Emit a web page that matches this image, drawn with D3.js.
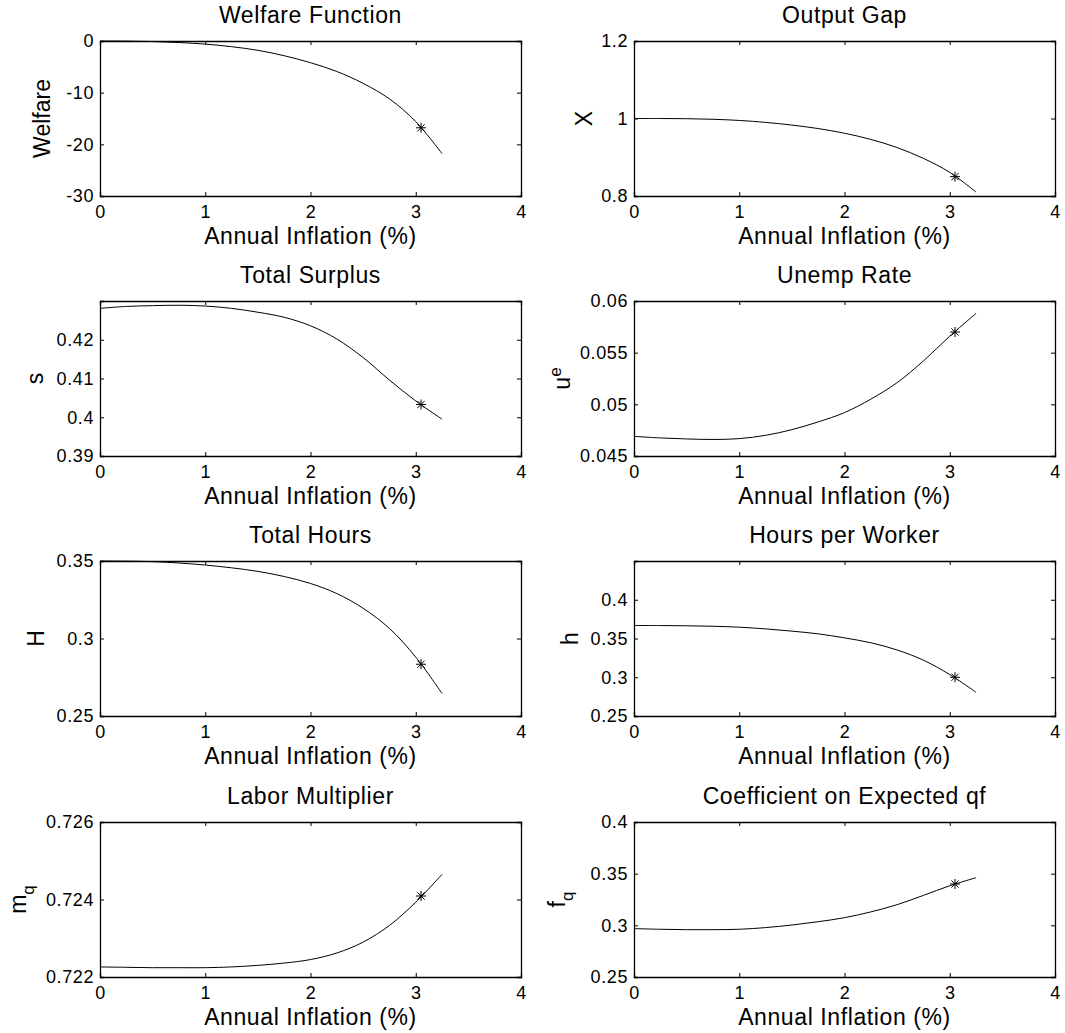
<!DOCTYPE html>
<html>
<head>
<meta charset="utf-8">
<script src="https://cdn.jsdelivr.net/npm/d3@7"></script>
<style>
  body { margin: 0; background: #fff; }
  text { font-family: "Liberation Sans", Arial, Helvetica, sans-serif; fill: #000; }
</style>
</head>
<body>
<script>
// inflation grid (x values shared by every panel)
var inflation = [0, 0.25, 0.5, 0.75, 1, 1.25, 1.5, 1.75, 2, 2.25, 2.5, 2.75, 3, 3.25]

// series
var welfare   = [0, -0.02, -0.1, -0.3, -0.6, -1.1, -1.8, -2.85, -4.2, -5.9, -8.2, -11.2, -15.6, -21.8]
var outputGap = [1.0, 1.0, 0.9995, 0.998, 0.995, 0.99, 0.983, 0.974, 0.962, 0.946, 0.925, 0.897, 0.861, 0.81]
var surplus   = [0.4281, 0.4286, 0.4288, 0.4289, 0.4287, 0.4281, 0.4271, 0.4258, 0.4236, 0.4202, 0.4154, 0.4096, 0.4042, 0.3995]
var unemp     = [0.0469, 0.04675, 0.04665, 0.0466, 0.04668, 0.0470, 0.04755, 0.0483, 0.0492, 0.0505, 0.0521, 0.0542, 0.0566, 0.0588]
var totHours  = [0.35, 0.3499, 0.3496, 0.3487, 0.3474, 0.3456, 0.3433, 0.3400, 0.3355, 0.3290, 0.3195, 0.3065, 0.2880, 0.2645]
var hrsWorker = [0.3668, 0.3667, 0.3664, 0.3658, 0.3646, 0.3624, 0.3595, 0.3560, 0.3508, 0.3445, 0.3352, 0.3220, 0.3035, 0.2805]
var laborMult = [0.72226, 0.72225, 0.72224, 0.72224, 0.72224, 0.72226, 0.7223, 0.72236, 0.72245, 0.72262, 0.7229, 0.72333, 0.72393, 0.72465]
var coefQf    = [0.2968, 0.2962, 0.2958, 0.2958, 0.2962, 0.2978, 0.3003, 0.3035, 0.3074, 0.3130, 0.3200, 0.3290, 0.3383, 0.3461]

// the asterisk point on each panel
var markerX = [3.05]
var markerY = [-16.8, 0.85, 0.4033, 0.057, 0.2834, 0.300, 0.72409, 0.340]

var titles = ["Welfare Function", "Output Gap", "Total Surplus", "Unemp Rate",
              "Total Hours", "Hours per Worker", "Labor Multiplier", "Coefficient on Expected qf"]
// [main, superscript, subscript]
var yLabels = [["Welfare"], ["X"], ["s"], ["u", "e"], ["H"], ["h"], ["m", null, "q"], ["f", null, "q"]]
var yDomains = [[-30, 0], [0.8, 1.2], [0.39, 0.43], [0.045, 0.06], [0.25, 0.35], [0.25, 0.45], [0.722, 0.726], [0.25, 0.4]]
var yTicks = [[-30, -20, -10, 0], [0.8, 1, 1.2], [0.39, 0.4, 0.41, 0.42], [0.045, 0.05, 0.055, 0.06],
              [0.25, 0.3, 0.35], [0.25, 0.3, 0.35, 0.4], [0.722, 0.724, 0.726], [0.25, 0.3, 0.35, 0.4]]
var xTicks = [0, 1, 2, 3, 4]
var xLabel = "Annual Inflation (%)"

var series = [welfare, outputGap, surplus, unemp, totHours, hrsWorker, laborMult, coefQf]

var screen = {width: 1065, height: 1033}
var colLeft = [100, 634]
var rowTop = [41, 301, 561, 822]
var pw = 421, ph = 155
// distance from axis to y label baseline
var yLabelOff = [50, 42, 57, 64, 56, 56, 74, 69]

var svg = d3.select("body")
  .append("svg")
  .attr("width", screen.width)
  .attr("height", screen.height)

var star = "M-5,0L5,0M0,-5L0,5M-3.6,-3.6L3.6,3.6M-3.6,3.6L3.6,-3.6"

var drawPanel = function(i)
{
  var g = svg.append("g")
    .attr("transform", "translate(" + colLeft[i % 2] + "," + rowTop[Math.floor(i / 2)] + ")")

  var xScale = d3.scaleLinear().domain([0, 4]).range([0, pw])
  var yScale = d3.scaleLinear().domain(yDomains[i]).range([ph, 0])

  var fmt = function(d) { return String(d) }

  //axes, ticks point inward like matlab
  g.append("g").attr("transform", "translate(0," + ph + ")")
    .call(d3.axisBottom(xScale).tickValues(xTicks).tickSize(-4).tickPadding(9).tickFormat(fmt))
  g.append("g")
    .call(d3.axisTop(xScale).tickValues(xTicks).tickSize(-4).tickFormat(""))
  g.append("g")
    .call(d3.axisLeft(yScale).tickValues(yTicks[i]).tickSize(-4).tickPadding(6).tickFormat(fmt))
  g.append("g").attr("transform", "translate(" + pw + ",0)")
    .call(d3.axisRight(yScale).tickValues(yTicks[i]).tickSize(-4).tickFormat(""))

  g.selectAll(".domain").attr("stroke", "#000").attr("stroke-width", 1.3)
  g.selectAll(".tick line").attr("stroke", "#000").attr("stroke-width", 1)
  g.selectAll(".tick text")
    .attr("fill", "#000")
    .style("font-size", "18px")
    .style("letter-spacing", "0.6px")
    .style("font-family", "Liberation Sans, Arial, sans-serif")

  // curve
  var line = d3.line()
    .x(function(d, j) { return xScale(inflation[j]) })
    .y(function(d) { return yScale(d) })
    .curve(d3.curveCatmullRom.alpha(0.5))

  g.append("path")
    .datum(series[i])
    .attr("d", line)
    .attr("fill", "none")
    .attr("stroke", "#000")
    .attr("stroke-width", 1)

  g.selectAll(".star")
    .data(markerX)
    .enter()
    .append("path")
    .attr("class", "star")
    .attr("transform", function(d) { return "translate(" + xScale(d) + "," + yScale(markerY[i]) + ")" })
    .attr("d", star)
    .attr("stroke", "#000")
    .attr("stroke-width", 1)
    .attr("fill", "none")

  g.append("text")
    .attr("x", pw / 2)
    .attr("y", -18)
    .attr("text-anchor", "middle")
    .style("font-size", "23px")
    .style("letter-spacing", "0.6px")
    .text(titles[i])

  g.append("text")
    .attr("x", pw / 2)
    .attr("y", ph + 48)
    .attr("text-anchor", "middle")
    .style("font-size", "23px")
    .style("letter-spacing", "0.6px")
    .text(xLabel)

  var lab = yLabels[i]
  var yl = g.append("text")
    .attr("transform", "translate(" + (-yLabelOff[i]) + "," + (ph / 2) + ") rotate(-90)")
    .attr("text-anchor", "middle")
    .style("font-size", "23px")
  yl.append("tspan").text(lab[0])
  if (lab[1]) {
    yl.append("tspan").attr("dy", "-0.55em").style("font-size", "17px").text(lab[1])
  }
  if (lab[2]) {
    yl.append("tspan").attr("dy", "0.45em").style("font-size", "17px").text(lab[2])
  }
}

for (var i = 0; i < 8; i++) {
  drawPanel(i)
}
</script>
</body>
</html>
